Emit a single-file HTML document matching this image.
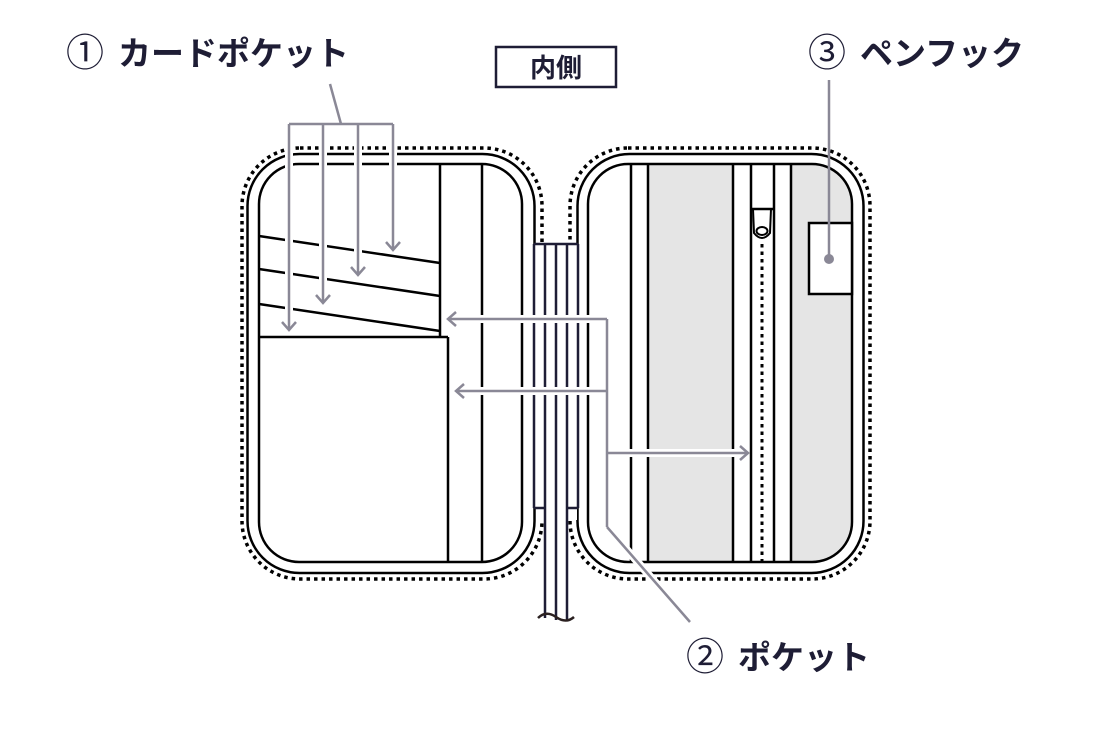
<!DOCTYPE html>
<html><head><meta charset="utf-8"><style>
html,body{margin:0;padding:0;background:#fff;}
svg{display:block;}
text{font-family:"Liberation Sans","Noto Sans CJK JP",sans-serif;font-weight:bold;fill:#1e1d35;}
</style></head><body>
<svg width="1118" height="738" viewBox="0 0 1118 738" xmlns="http://www.w3.org/2000/svg">
<rect width="1118" height="738" fill="#fff"/>
<!-- labels -->
<text x="66" y="66" font-size="38" style="font-weight:normal">①</text>
<text x="118" y="65" font-size="33">カードポケット</text>
<rect x="496" y="47" width="120" height="40" fill="none" stroke="#1e1d35" stroke-width="2.5"/>
<text x="556" y="77" font-size="26" text-anchor="middle">内側</text>
<text x="808" y="66" font-size="38" style="font-weight:normal">③</text>
<text x="860" y="65" font-size="33">ペンフック</text>
<text x="686" y="670" font-size="38" style="font-weight:normal">②</text>
<text x="738" y="669" font-size="33">ポケット</text>

<g fill="none" stroke="#000" stroke-width="2.5">
<!-- left panel -->
<rect x="242" y="148" width="300" height="431" rx="58" stroke-dasharray="3.5,4" stroke-width="3.5"/>
<rect x="247.5" y="154" width="287" height="419" rx="52"/>
<rect x="259" y="164" width="263" height="398" rx="40"/>
<!-- right panel -->
<rect x="570" y="148" width="300" height="431" rx="58" stroke-dasharray="3.5,4" stroke-width="3.5"/>
<rect x="577.5" y="154" width="286" height="419" rx="52"/>
</g>
<defs><clipPath id="rc"><rect x="588" y="164" width="264" height="398" rx="40"/></clipPath></defs>
<g clip-path="url(#rc)">
<rect x="648" y="164" width="85" height="398" fill="#e5e5e5"/>
<rect x="791" y="164" width="61" height="398" fill="#e5e5e5"/>
</g>
<g fill="none" stroke="#000" stroke-width="2.5">
<rect x="588" y="164" width="264" height="398" rx="40"/>
<line x1="631" y1="164" x2="631" y2="562"/>
<line x1="648" y1="164" x2="648" y2="562"/>
<line x1="733" y1="164" x2="733" y2="562"/>
<line x1="751" y1="164" x2="751" y2="562"/>
<line x1="774" y1="164" x2="774" y2="562"/>
<line x1="791" y1="164" x2="791" y2="562"/>
<line x1="762" y1="244" x2="762" y2="562" stroke-dasharray="3.5,4" stroke-width="3"/>
<line x1="751" y1="209" x2="774" y2="209"/>
<path d="M753 209 L754 233 Q762 243 770 233 L771 209" stroke-width="2"/>
<ellipse cx="762" cy="231" rx="5.5" ry="4" stroke-width="2"/>
<rect x="809" y="223" width="43" height="71" fill="#fff"/>
<line x1="440" y1="164" x2="440" y2="337"/>
<line x1="482" y1="164" x2="482" y2="562"/>
<line x1="448" y1="337" x2="448" y2="562"/>
<line x1="259" y1="337" x2="448" y2="337"/>
<line x1="259" y1="236" x2="440" y2="263"/>
<line x1="259" y1="269" x2="440" y2="296"/>
<line x1="259" y1="304" x2="440" y2="331"/>
</g>
<!-- spine -->
<rect x="535" y="244" width="43" height="264" fill="#fff"/>
<rect x="536" y="508" width="41" height="12" fill="#fff"/>
<g fill="none" stroke="#1e1d35" stroke-width="2.5">
<line x1="534" y1="244" x2="578" y2="244"/>
<line x1="534" y1="244" x2="534" y2="508"/>
<line x1="578" y1="244" x2="578" y2="508"/>
<line x1="534" y1="508" x2="545" y2="508"/>
<line x1="567" y1="508" x2="578" y2="508"/>
<line x1="545" y1="244" x2="545" y2="618"/>
<line x1="556" y1="244" x2="556" y2="620"/>
<line x1="567" y1="244" x2="567" y2="620"/>
<path d="M538 618 Q546 610 556 617 Q566 624 574 617" stroke="#2a2020"/>
</g>
<g fill="none" stroke="#fff" stroke-width="8">
<line x1="289" y1="124" x2="289" y2="330"/>
<line x1="323" y1="124" x2="323" y2="303"/>
<line x1="358" y1="124" x2="358" y2="275"/>
<line x1="393" y1="124" x2="393" y2="250"/>
<line x1="448" y1="319" x2="607" y2="319"/>
<line x1="456" y1="391" x2="607" y2="391"/>
<line x1="607" y1="453" x2="748" y2="453"/>
<line x1="607" y1="319" x2="607" y2="527"/>
<line x1="607" y1="527" x2="690" y2="622"/>
</g>
<g fill="none" stroke="#8a8896" stroke-width="2.5">
<line x1="330" y1="84" x2="341" y2="124"/>
<line x1="289" y1="124" x2="393" y2="124"/>
<line x1="289" y1="124" x2="289" y2="330"/>
<line x1="323" y1="124" x2="323" y2="303"/>
<line x1="358" y1="124" x2="358" y2="275"/>
<line x1="393" y1="124" x2="393" y2="250"/>
<path d="M282 322 L289 330 L296 322"/>
<path d="M316 295 L323 303 L330 295"/>
<path d="M351 267 L358 275 L365 267"/>
<path d="M386 242 L393 250 L400 242"/>
<line x1="448" y1="319" x2="607" y2="319"/>
<line x1="456" y1="391" x2="607" y2="391"/>
<line x1="607" y1="453" x2="748" y2="453"/>
<path d="M456 312 L448 319 L456 326"/>
<path d="M464 384 L456 391 L464 398"/>
<path d="M740 446 L748 453 L740 460"/>
<line x1="607" y1="319" x2="607" y2="527"/>
<line x1="607" y1="527" x2="690" y2="622"/>
<line x1="829" y1="80" x2="829" y2="259"/>
</g>
<circle cx="829" cy="259" r="5" fill="#8a8896"/>
</svg>
</body></html>
